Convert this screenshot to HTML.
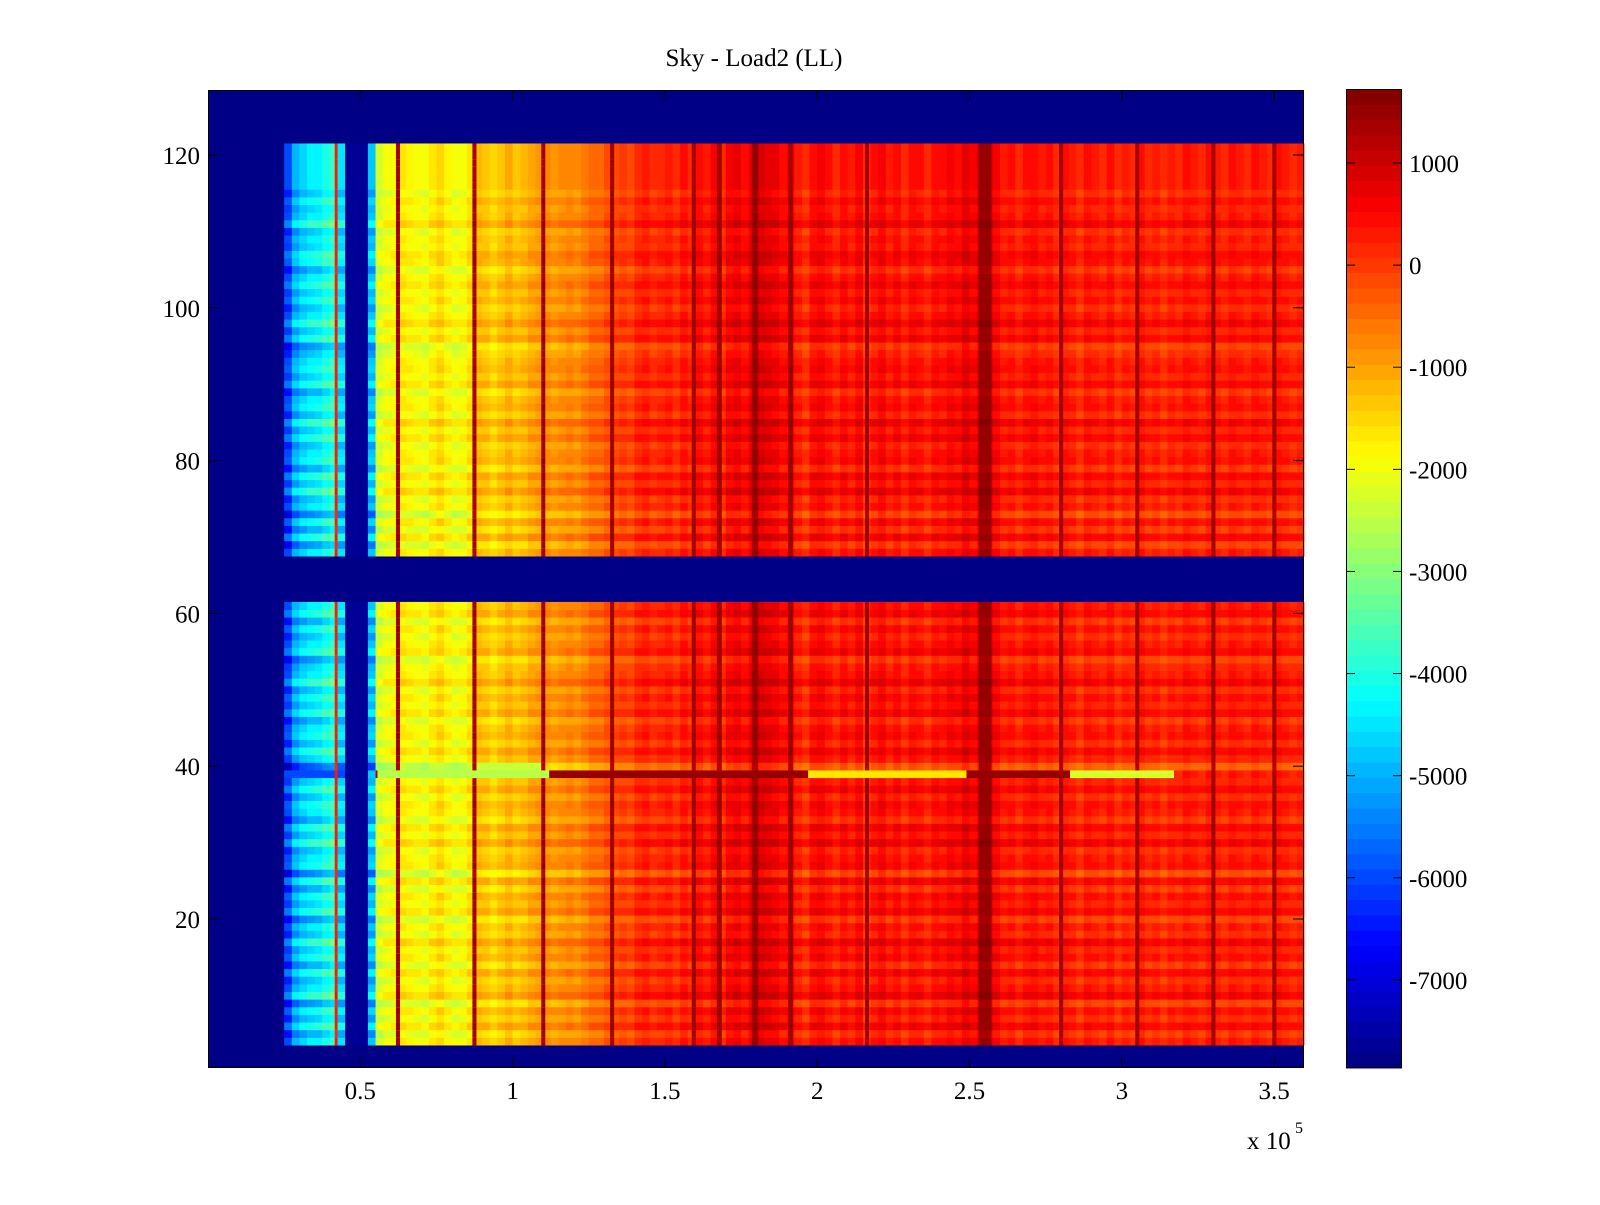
<!DOCTYPE html>
<html><head><meta charset="utf-8"><style>
body{margin:0;background:#fff;}
svg text{font-family:"Liberation Serif",serif;font-size:25px;fill:#000;}
</style></head><body>
<svg id="chart" width="1600" height="1200" xmlns="http://www.w3.org/2000/svg">
<rect width="1600" height="1200" fill="#fff"/>
<text x="754" y="66" text-anchor="middle">Sky - Load2 (LL)</text>
<g id="plot"></g>
<g id="cbar"></g>
<g id="axes"></g>
<text x="1247" y="1149">x 10</text>
<text x="1295" y="1133" style="font-size:16px">5</text>
</svg>
<script>
// ---- data ----
const xStart = 0.25, colStep = 0.025; // columns in units of 1e5
const colValues = [-6000,-5000,-4600,-4400,-4300,-4000,-3800,-4500,-7600,-7600,-7600,-4800,-2200,-2000,-1900,-1700,-1800,-1900,-2000,-1700,
-1500,-1800,-2000,-1900,-1600,-1200,-1300,-1500,-1300,-1100,-1300,-1200,-1000,-900,-800,-900,-800,-700,-800,-600,
-400,-400,-200,-100,0,-100,200,300,100,200,300,100,400,200,500,300,600,200,600,700,
500,800,900,800,700,500,600,300,100,500,600,400,200,500,300,600,100,400,600,300,
500,200,500,400,200,500,400,600,500,800,600,900,1100,600,300,400,200,400,500,300,
400,200,400,300,100,400,300,200,400,100,300,200,400,200,300,100,300,200,400,300,
200,400,300,200,400,300,200,400,300,200,400,300,200,300];
const stripeX = [0.42,0.623,0.874,1.10,1.326,1.594,1.678,1.795,1.912,2.163,2.55,2.80,3.05,3.30,3.50];
const stripeW = [0.008,0.012,0.012,0.012,0.012,0.012,0.015,0.02,0.015,0.012,0.04,0.012,0.012,0.012,0.012];
const stripeVal = [300,1400,1400,1400,1400,1400,1400,1450,1400,1400,1500,1400,1400,1400,1400];
const rowFirst = 4, rowLast = 121, gapFirst = 62, gapLast = 67;
const rowOffsets = [0,0,0,0,-300,200,-200,100,-400,300,0,-200,200,-300,100,-100,300,-200,0,-400,
200,-100,100,-300,200,-500,100,0,-200,300,-100,200,-300,0,100,-200,200,-100,0,-700,
-100,200,-200,100,0,-300,200,-100,100,-200,300,0,-100,-400,200,0,-200,100,-300,200,
0,0,0,0,0,0,0,0,-400,200,-300,100,-500,0,-200,300,-100,200,-300,100,
0,-200,200,-100,300,-200,100,0,-300,200,-100,100,0,-200,-400,200,-100,300,0,-200,
100,-100,200,0,-300,100,200,-100,0,-200,300,0,-100,100,-200,0,0,0,0,0,0,0,0,0];
const row39SegStart = [0.555,1.12,1.97,2.49,2.83];
const row39SegEnd   = [1.12,1.97,2.49,2.83,3.17];
const row39SegVal   = [-2600,1500,-1600,1450,-2200];
const cbTicks = [1000,0,-1000,-2000,-3000,-4000,-5000,-6000,-7000];
const yTicks = [20,40,60,80,100,120];
const xTicks = [0.5,1,1.5,2,2.5,3,3.5];
const xTickLabels = ["0.5","1","1.5","2","2.5","3","3.5"];
// ---- scales ----
const PL=208,PR=1304,PT=90,PB=1068;
const XMIN=0,XMAX=3.598,YMIN=0.5,YMAX=128.5;
const CMIN=-7863,CMAX=1725;
const CL=1346,CR=1402,CT=89,CB=1068;
const sx=v=>PL+(v-XMIN)/(XMAX-XMIN)*(PR-PL);
const sy=v=>PB-(v-YMIN)/(YMAX-YMIN)*(PB-PT);
const cy=v=>CB-(v-CMIN)/(CMAX-CMIN)*(CB-CT);
function jet(t){t=Math.max(0,Math.min(1,t));t=(Math.floor(t*63.999)+0.5)/64;
 const c=x=>Math.round(255*Math.max(0,Math.min(1,x)));
 return `rgb(${c(1.5-Math.abs(4*t-3))},${c(1.5-Math.abs(4*t-2))},${c(1.5-Math.abs(4*t-1))})`;}
const col=v=>jet((v-CMIN)/(CMAX-CMIN));
const NS="http://www.w3.org/2000/svg";
function mk(tag,attrs,parent){const e=document.createElementNS(NS,tag);for(const k in attrs)e.setAttribute(k,attrs[k]);parent.appendChild(e);return e;}
const plot=document.getElementById('plot');
const bg=mk('rect',{x:PL,y:PT,width:PR-PL,height:PB-PT,fill:col(CMIN)},plot);


function cell(x0,x1,r,v,name){
 const y0=sy(r+0.5),y1=sy(r-0.5);
 const e=mk('rect',{x:sx(x0).toFixed(2),y:y0.toFixed(2),width:(sx(x1)-sx(x0)+0.4).toFixed(2),height:(y1-y0+0.4).toFixed(2),fill:col(v)},plot);
 
 
}
for(let r=rowFirst;r<=rowLast;r++){
 if(r>=gapFirst&&r<=gapLast)continue;
 const off=rowOffsets[r-1]||0;
 for(let c=0;c<colValues.length;c++){
  const x0=xStart+c*colStep,x1=Math.min(XMAX,x0+colStep);
  let v=colValues[c];
  const leftScale = x0<0.55?2:1;
  if(!(x0>=0.45&&x0<0.525)) v+=off*leftScale;
  if(r===40&&x0>=0.55&&x0<1.1) v=Math.min(v,-2400);
  if(r===39&&x0<0.43) v=-6000;
  cell(x0,x1,r,v,'heatmap-cell');
 }
 if(r===39){
  for(let i=0;i<row39SegStart.length;i++) cell(row39SegStart[i],row39SegEnd[i],r,row39SegVal[i],'row39-segment');
  cell(0.55,0.555,r,1300,'row39-segment');
 }
 for(let i=0;i<stripeX.length;i++){
  if(r===39&&stripeX[i]<3.17&&stripeX[i]>0.55)continue;
  cell(stripeX[i]-stripeW[i]/2,stripeX[i]+stripeW[i]/2,r,stripeVal[i]+off*0.3,'stripe-cell');
 }
}
// colorbar
const cb=document.getElementById('cbar');
for(let i=0;i<64;i++){
 const v0=CMIN+i*(CMAX-CMIN)/64,v1=CMIN+(i+1)*(CMAX-CMIN)/64;
 const e=mk('rect',{x:CL,y:cy(v1).toFixed(2),width:CR-CL,height:(cy(v0)-cy(v1)+0.5).toFixed(2),fill:jet((i+0.5)/64)},cb);
 
 
}
const cbf=mk('rect',{x:CL+0.5,y:CT+0.5,width:CR-CL-1,height:CB-CT-1,fill:'none',stroke:'#000','stroke-width':1},cb);


cbTicks.forEach(t=>{const y=cy(t);
 mk('line',{x1:CL,x2:CL+9,y1:y,y2:y,stroke:'#000'},cb);
 mk('line',{x1:CR-9,x2:CR,y1:y,y2:y,stroke:'#000'},cb);
 const tx=mk('text',{x:CR+7,y:y+9},cb);tx.textContent=String(t);
 
 
});
// axes
const ax=document.getElementById('axes');
const fr=mk('rect',{x:PL+0.5,y:PT+0.5,width:PR-PL-1,height:PB-PT-1,fill:'none',stroke:'#000','stroke-width':1},ax);


yTicks.forEach(t=>{const y=sy(t);
 mk('line',{x1:PL,x2:PL+11,y1:y,y2:y,stroke:'#000'},ax);
 mk('line',{x1:PR-11,x2:PR,y1:y,y2:y,stroke:'#000'},ax);
 const tx=mk('text',{x:PL-8,y:y+9,'text-anchor':'end'},ax);tx.textContent=String(t);
 
 
});
xTicks.forEach((t,i)=>{const x=sx(t);
 mk('line',{x1:x,x2:x,y1:PB-11,y2:PB,stroke:'#000'},ax);
 mk('line',{x1:x,x2:x,y1:PT,y2:PT+11,stroke:'#000'},ax);
 const tx=mk('text',{x:x,y:PB+31,'text-anchor':'middle'},ax);tx.textContent=xTickLabels[i];
 
 
});
</script>
</body></html>
